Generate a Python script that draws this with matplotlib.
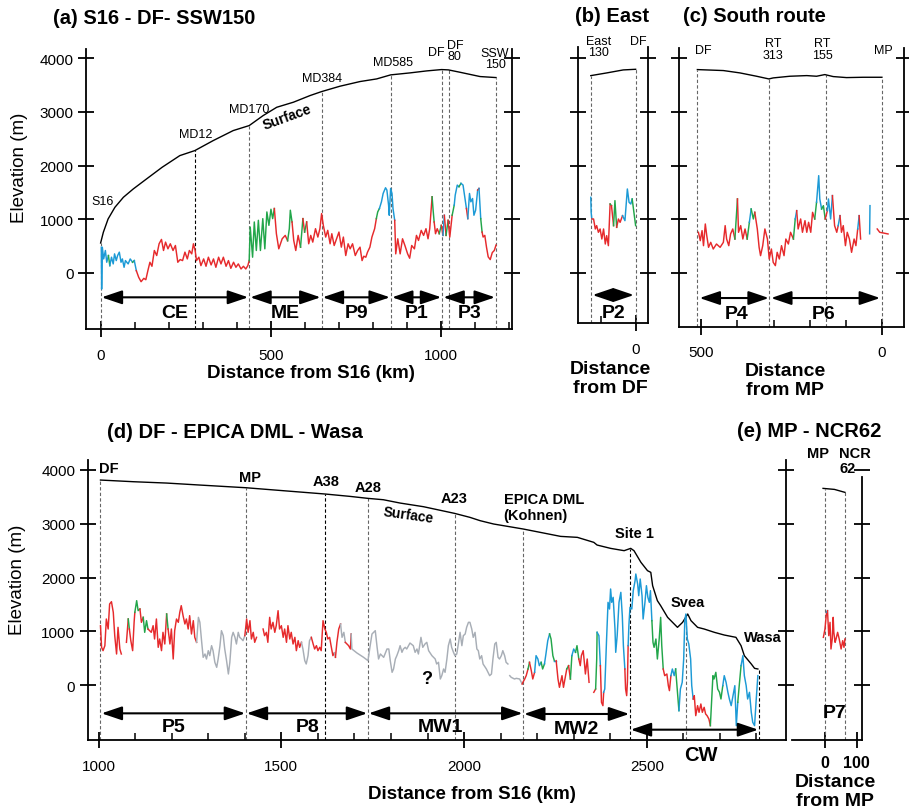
import numpy as np
import matplotlib
matplotlib.use("Agg")
import matplotlib.pyplot as plt
from matplotlib.ticker import MultipleLocator

plt.rcParams["font.family"] = ["Liberation Sans", "DejaVu Sans"]

nan = float("nan")

# ---- data (km, m) ----
# (a) S16 - DF - SSW150, distance from S16
A_SURF_KM = [0, 8, 22, 42, 67, 96, 135, 181, 233, 277, 331, 390, 437, 478, 518, 567, 616, 650, 704,
             763, 812, 853, 910, 959, 1003, 1023, 1057, 1116, 1163]
A_SURF_M = [559, 758, 1006, 1223, 1410, 1565, 1751, 1969, 2186, 2279, 2465, 2652, 2745, 2931, 3086, 3180,
            3304, 3378, 3478, 3565, 3614, 3689, 3726, 3763, 3788, 3782, 3738, 3658, 3639]
# bed rows: (km, m, colour of the piece that starts here)
A_BED = [
    (2, 480, "b"), (3, -300, "b"), (5, 480, "b"), (9, 262, "b"), (14, 419, "b"), (18, 200, "b"), (23, 325, "g"),
    (27, 137, "b"), (32, 294, "b"), (37, 169, "b"), (41, 356, "b"), (46, 231, "b"), (50, 325, "b"), (55, 388, "b"),
    (60, 200, "b"), (64, 262, "b"), (69, 106, "b"), (73, 231, "b"), (81, 169, "b"), (87, 262, "b"), (94, 200, "g"),
    (99, 231, "b"), (105, 44, "r"), (112, -81, "r"), (119, -162, "r"), (127, -100, "r"), (133, -125, "r"),
    (139, 44, "r"), (145, 200, "r"), (151, 125, "r"), (158, 419, "r"), (165, 325, "r"), (172, 544, "r"),
    (179, 625, "r"), (185, 419, "r"), (191, 575, "r"), (198, 450, "r"), (205, 544, "r"), (213, 419, "r"),
    (220, 512, "r"), (227, 200, "r"), (234, 250, "r"), (241, 231, "r"), (248, 388, "r"), (255, 262, "r"),
    (261, 419, "r"), (268, 356, "r"), (273, 544, "r"), (278, 419, "r"), (282, 231, "r"), (289, 294, "r"),
    (295, 137, "r"), (303, 262, "r"), (310, 125, "r"), (317, 294, "r"), (325, 150, "r"), (332, 262, "r"),
    (339, 106, "r"), (347, 294, "r"), (354, 169, "r"), (361, 294, "r"), (369, 125, "r"), (376, 231, "r"),
    (383, 87, "r"), (391, 200, "r"), (398, 106, "r"), (405, 169, "r"), (413, 75, "r"), (420, 125, "r"),
    (427, 75, "r"), (433, 137, "r"), (437, 231, "g"), (440, 856, "g"), (447, 294, "g"), (452, 950, "g"),
    (458, 419, "g"), (464, 981, "g"), (470, 419, "g"), (477, 1012, "g"), (483, 450, "g"), (489, 1137, "g"),
    (495, 887, "g"), (501, 1187, "g"), (506, 1012, "g"), (511, 1200, "r"), (517, 731, "r"), (524, 450, "r"),
    (534, 637, "r"), (543, 700, "r"), (550, 600, "g"), (555, 825, "g"), (558, 1169, "g"), (563, 950, "r"),
    (568, 606, "r"), (574, 419, "r"), (581, 700, "r"), (588, 481, "g"), (595, 1012, "r"), (600, 762, "g"),
    (606, 950, "r"), (612, 544, "r"), (618, 700, "r"), (624, 575, "r"), (632, 825, "r"), (639, 669, "r"),
    (645, 825, "r"), (650, 1106, "r"), (655, 887, "r"), (662, 669, "r"), (668, 794, "r"), (675, 544, "r"),
    (680, 731, "r"), (687, 512, "r"), (694, 637, "r"), (701, 762, "r"), (708, 481, "r"), (714, 669, "r"),
    (721, 325, "r"), (728, 544, "r"), (734, 450, "r"), (741, 544, "r"), (749, 325, "r"), (756, 419, "r"),
    (763, 481, "r"), (769, 231, "r"), (774, 312, "r"), (780, 294, "r"), (785, 388, "r"), (792, 481, "r"),
    (798, 669, "r"), (806, 825, "r"), (811, 1012, "g"), (815, 1137, "g"), (820, 1200, "b"), (826, 1325, "b"),
    (831, 1481, "b"), (838, 1587, "b"), (842, 1544, "b"), (847, 1262, "b"), (849, 1075, "b"), (853, 1575, "b"),
    (857, 1481, "b"), (860, 1200, "b"), (865, 981, "r"), (868, 356, "r"), (874, 637, "r"), (881, 356, "r"),
    (888, 637, "r"), (895, 512, "r"), (903, 356, "r"), (909, 275, "r"), (915, 512, "r"), (923, 450, "r"),
    (929, 700, "r"), (935, 606, "r"), (943, 794, "r"), (950, 700, "r"), (957, 825, "r"), (963, 637, "r"),
    (968, 825, "r"), (975, 1419, "g"), (978, 1169, "g"), (981, 950, "r"), (985, 731, "r"), (990, 825, "r"),
    (996, 731, "g"), (1002, 887, "r"), (1007, 700, "b"), (1011, 1075, "r"), (1016, 700, "g"), (1022, 981, "r"),
    (1027, 669, "r"), (1034, 1075, "g"), (1040, 1262, "b"), (1043, 1450, "b"), (1049, 1637, "b"),
    (1054, 1606, "g"), (1060, 1669, "b"), (1066, 1637, "b"), (1071, 1419, "b"), (1076, 1200, "r"),
    (1080, 1012, "b"), (1085, 1481, "b"), (1089, 1325, "b"), (1094, 1387, "b"), (1098, 1075, "b"),
    (1103, 1169, "b"), (1109, 1544, "r"), (1113, 1575, "b"), (1118, 1012, "g"), (1122, 762, "r"),
    (1125, 669, "r"), (1130, 700, "r"), (1135, 480, "r"), (1140, 300, "r"), (1146, 250, "r"), (1152, 380, "r"),
    (1158, 420, "r"), (1163, 520, "r"),
]
A_MARK_KM = [0, 278, 437, 650, 854, 1005, 1024, 1163]
A_SEG_NAMES = ["CE", "ME", "P9", "P1", "P3"]
A_SEG_START = [0, 437, 650, 854, 1005]
A_SEG_END = [437, 650, 854, 1005, 1163]

# (b) East, distance from DF
B_SURF_KM = [130, 84, 36, 0]
B_SURF_M = [3676, 3726, 3782, 3794]
B_BED = [
    (130, 1410, "b"), (129, 1130, "b"), (127, 1006, "r"), (122, 1006, "r"), (117, 820, "r"), (113, 882, "r"),
    (108, 758, "r"), (103, 820, "r"), (98, 633, "r"), (93, 820, "r"), (88, 540, "r"), (84, 696, "r"),
    (79, 509, "r"), (74, 1285, "g"), (70, 1254, "r"), (64, 882, "g"), (60, 1348, "g"), (55, 851, "r"),
    (50, 1006, "r"), (45, 944, "r"), (38, 1068, "b"), (31, 975, "b"), (24, 1565, "b"), (19, 1316, "b"),
    (14, 1285, "b"), (10, 1378, "g"), (5, 1130, "g"), (0, 882, "g"),
]
B_MARK_KM = [130, 0]
B_SEG_NAMES = ["P2"]
B_SEG_START = [125]
B_SEG_END = [5]

# (c) South route, distance from MP
C_SURF_KM = [511, 439, 393, 347, 313, 301, 255, 208, 181, 158, 135, 98, 52, 0]
C_SURF_M = [3788, 3770, 3726, 3664, 3614, 3633, 3664, 3676, 3664, 3695, 3658, 3639, 3645, 3645]
C_BED = [
    (508, 758, "r"), (503, 602, "r"), (498, 789, "r"), (494, 509, "r"), (489, 913, "r"), (485, 696, "r"),
    (480, 478, "r"), (474, 571, "r"), (467, 447, "r"), (458, 540, "r"), (448, 478, "r"), (439, 571, "r"),
    (434, 882, "r"), (430, 633, "r"), (424, 509, "r"), (419, 727, "r"), (413, 820, "r"), (407, 633, "g"),
    (400, 1379, "r"), (397, 758, "r"), (391, 882, "r"), (385, 633, "r"), (379, 820, "r"), (373, 633, "g"),
    (367, 944, "b"), (362, 1192, "g"), (356, 1006, "g"), (352, 1130, "r"), (345, 820, "r"), (340, 478, "r"),
    (336, 323, "r"), (330, 509, "r"), (324, 820, "r"), (317, 633, "r"), (312, 261, "r"), (306, 447, "r"),
    (301, 199, "r"), (295, 137, "r"), (290, 385, "r"), (284, 261, "r"), (278, 509, "r"), (271, 323, "r"),
    (266, 633, "r"), (259, 540, "r"), (253, 758, "r"), (245, 633, "g"), (240, 1006, "b"), (236, 1161, "r"),
    (232, 820, "r"), (225, 1006, "r"), (220, 758, "r"), (213, 975, "r"), (208, 758, "r"), (203, 944, "r"),
    (197, 758, "r"), (192, 1130, "r"), (186, 1006, "g"), (181, 1317, "b"), (175, 1813, "b"), (172, 1379, "b"),
    (167, 1192, "g"), (162, 1254, "g"), (157, 1006, "r"), (151, 1161, "b"), (148, 1379, "b"), (142, 1006, "b"),
    (137, 1441, "r"), (131, 882, "r"), (125, 758, "r"), (121, 882, "b"), (116, 1068, "r"), (112, 758, "r"),
    (107, 882, "r"), (101, 509, "r"), (96, 758, "r"), (90, 633, "r"), (84, 385, "r"), (77, 633, "r"),
    (72, 509, "r"), (67, 820, "b"), (63, 1068, "r"), (59, 633, "r"), (nan, nan, "r"), (34, 730, "b"),
    (33, 1254, "b"), (nan, nan, "r"), (13, 820, "r"), (6, 758, "r"), (-4, 745, "r"), (-17, 727, "r"),
]
C_MARK_KM = [511, 313, 155, 0]
C_SEG_NAMES = ["P4", "P6"]
C_SEG_START = [505, 307]
C_SEG_END = [313, 5]

# (d) DF - EPICA DML - Wasa, distance from S16
D_SURF_KM = [1005, 1095, 1186, 1277, 1403, 1505, 1620, 1688, 1737, 1779, 1825, 1889, 1974, 2016, 2044, 2081,
             2162, 2218, 2264, 2310, 2355, 2364, 2401, 2438, 2456, 2465, 2484, 2502, 2511, 2516, 2529, 2538,
             2557, 2584, 2598, 2612, 2621, 2639, 2657, 2685, 2712, 2744, 2758, 2767, 2786, 2795, 2804]
D_SURF_M = [3813, 3782, 3757, 3720, 3670, 3615, 3553, 3509, 3472, 3447, 3385, 3317, 3193, 3119, 3057, 2995,
            2902, 2827, 2765, 2747, 2654, 2604, 2542, 2499, 2542, 2499, 2282, 2127, 2096, 1848, 1569, 1476,
            1259, 1073, 1166, 1321, 1197, 1073, 1042, 980, 930, 887, 732, 546, 391, 310, 298]
D_BED = [
    (1005, 1104, "r"), (1008, 701, "r"), (1012, 639, "r"), (1017, 732, "r"), (1021, 1228, "r"), (1026, 1042, "r"),
    (1030, 1507, "r"), (1035, 1550, "r"), (1040, 1352, "r"), (1044, 918, "r"), (1049, 577, "r"), (1053, 1073, "r"),
    (1058, 670, "r"), (1062, 577, "r"), (nan, nan, "r"), (1076, 794, "r"), (1081, 1228, "g"), (1084, 1042, "r"),
    (1088, 825, "r"), (1093, 639, "r"), (1097, 1166, "r"), (1099, 1352, "g"), (1104, 1569, "g"),
    (1108, 1383, "g"), (1113, 1414, "r"), (1117, 1166, "r"), (1122, 1259, "g"), (1126, 980, "g"),
    (1131, 1197, "g"), (1135, 1042, "r"), (1144, 980, "r"), (1149, 1104, "r"), (1153, 856, "r"),
    (1158, 1228, "r"), (1163, 701, "r"), (1167, 856, "r"), (1172, 639, "r"), (1176, 980, "r"), (1181, 763, "r"),
    (1186, 1321, "g"), (1190, 1042, "r"), (1195, 763, "r"), (1199, 1042, "r"), (1204, 484, "r"),
    (1208, 1011, "r"), (1213, 1228, "r"), (1218, 1166, "r"), (1222, 1352, "r"), (1226, 1476, "r"),
    (1231, 1290, "r"), (1236, 1135, "r"), (1240, 1228, "r"), (1245, 1042, "r"), (1249, 1290, "r"),
    (1254, 949, "r"), (1259, 1197, "r"), (1263, 887, "r"), (1268, 794, "k"), (1273, 1259, "k"),
    (1277, 1166, "k"), (1282, 794, "k"), (1286, 515, "k"), (1291, 577, "k"), (1295, 484, "k"), (1300, 639, "k"),
    (1304, 546, "k"), (1309, 732, "k"), (1313, 639, "k"), (1318, 422, "k"), (1323, 329, "k"), (1327, 484, "k"),
    (1332, 732, "k"), (1336, 1011, "k"), (1341, 918, "k"), (1345, 670, "k"), (1350, 453, "k"), (1355, 205, "k"),
    (1359, 422, "k"), (1364, 887, "k"), (1368, 980, "k"), (1373, 887, "k"), (1377, 763, "k"), (1382, 980, "k"),
    (1386, 887, "k"), (1391, 856, "k"), (1395, 825, "k"), (1400, 918, "r"), (1405, 1228, "r"), (1409, 980, "r"),
    (1414, 1197, "r"), (1418, 856, "r"), (1423, 980, "r"), (1427, 794, "r"), (1432, 887, "r"), (nan, nan, "r"),
    (1450, 1042, "r"), (1454, 918, "r"), (1459, 980, "r"), (1463, 794, "r"), (1468, 1259, "r"),
    (1472, 1042, "r"), (1477, 1166, "r"), (1482, 980, "r"), (1486, 1104, "r"), (1491, 1383, "r"),
    (1495, 1042, "r"), (1500, 1104, "r"), (1505, 887, "r"), (1509, 1042, "r"), (1514, 794, "r"),
    (1518, 1104, "r"), (1523, 856, "r"), (1527, 980, "r"), (1532, 763, "r"), (1537, 887, "r"), (1541, 639, "r"),
    (1546, 825, "r"), (1550, 701, "r"), (1555, 794, "k"), (1559, 670, "k"), (1564, 453, "k"), (1568, 391, "k"),
    (1573, 546, "k"), (1577, 825, "k"), (1582, 887, "r"), (1587, 763, "r"), (1591, 670, "r"), (1596, 732, "r"),
    (1600, 639, "r"), (1605, 701, "r"), (1609, 639, "r"), (1614, 1197, "r"), (1619, 1042, "r"), (1623, 980, "r"),
    (1627, 856, "r"), (1632, 887, "r"), (1636, 732, "r"), (1641, 546, "r"), (1645, 600, "k"), (1648, 515, "r"),
    (1652, 794, "r"), (1657, 1042, "r"), (1662, 1135, "k"), (1666, 887, "k"), (1671, 980, "k"), (1675, 794, "r"),
    (1684, 732, "r"), (1689, 670, "r"), (1691, 949, "k"), (1693, 670, "k"), (1707, 595, "k"), (1725, 515, "k"),
    (1737, 453, "k"), (1743, 732, "k"), (1748, 949, "k"), (1757, 1011, "k"), (1762, 701, "k"), (1766, 484, "k"),
    (1771, 577, "k"), (1780, 515, "k"), (1789, 670, "k"), (1794, 670, "k"), (1798, 453, "k"), (1803, 236, "k"),
    (1807, 298, "k"), (1812, 484, "k"), (1816, 546, "k"), (1821, 639, "k"), (1825, 732, "k"), (1830, 608, "k"),
    (1834, 670, "k"), (1839, 701, "k"), (1843, 670, "k"), (1852, 781, "k"), (1861, 732, "k"), (1866, 608, "k"),
    (1871, 670, "k"), (1875, 577, "k"), (1882, 887, "k"), (1887, 701, "k"), (1893, 763, "k"), (1898, 794, "k"),
    (1903, 639, "k"), (1912, 546, "k"), (1921, 484, "k"), (1925, 391, "k"), (1930, 422, "k"), (1935, 112, "k"),
    (1939, 174, "k"), (1944, 298, "k"), (1948, 236, "k"), (1953, 484, "k"), (1957, 732, "k"), (1962, 856, "k"),
    (1966, 701, "k"), (1971, 608, "k"), (1975, 546, "k"), (1980, 577, "k"), (1985, 794, "k"), (1989, 980, "k"),
    (1994, 732, "k"), (1998, 918, "k"), (2003, 949, "k"), (2007, 1073, "k"), (2012, 1166, "k"),
    (2016, 1166, "k"), (2021, 1042, "k"), (2025, 887, "k"), (2030, 980, "k"), (2035, 670, "k"), (2039, 639, "k"),
    (2043, 484, "k"), (2048, 546, "k"), (2052, 391, "k"), (2061, 298, "k"), (2070, 174, "k"), (2075, 205, "k"),
    (2079, 484, "k"), (2084, 763, "k"), (2088, 794, "k"), (2093, 515, "k"), (2097, 484, "k"), (2102, 546, "k"),
    (2106, 639, "k"), (2111, 546, "k"), (2115, 422, "k"), (2120, 391, "k"), (nan, nan, "k"), (2125, 174, "k"),
    (2129, 143, "k"), (2138, 112, "k"), (2143, 124, "k"), (2152, 112, "k"), (2159, 19, "r"), (2161, 50, "r"),
    (2166, 112, "r"), (2170, 174, "r"), (2175, 298, "g"), (2179, 422, "r"), (2184, 267, "r"), (2188, 112, "r"),
    (2193, 236, "b"), (2197, 546, "b"), (2202, 484, "b"), (2206, 360, "b"), (2211, 422, "g"), (2215, 298, "g"),
    (2220, 391, "b"), (2224, 577, "b"), (2229, 825, "b"), (2234, 949, "g"), (2238, 856, "g"), (2243, 546, "g"),
    (2247, 453, "b"), (2252, 453, "r"), (2257, 112, "r"), (2261, -43, "r"), (2268, 174, "r"), (2272, -43, "r"),
    (2281, 298, "g"), (2286, 360, "r"), (2291, 112, "g"), (2295, 546, "b"), (2300, 670, "b"), (2305, 608, "g"),
    (2309, 732, "g"), (2314, 484, "r"), (2318, 360, "r"), (2321, 546, "r"), (2326, 639, "r"), (2330, 360, "r"),
    (2332, 205, "r"), (2337, 484, "r"), (2342, 50, "r"), (nan, nan, "r"), (2355, -136, "r"), (2360, -74, "g"),
    (2363, 484, "g"), (2364, 980, "b"), (2369, 918, "b"), (2373, 360, "r"), (2376, -322, "r"), (2380, -384, "r"),
    (2382, -136, "b"), (2385, -74, "b"), (2390, 856, "b"), (2394, 1538, "b"), (2398, 1414, "b"),
    (2401, 1786, "b"), (2404, 1538, "b"), (2408, 1631, "b"), (2413, 1042, "b"), (2415, 608, "b"),
    (2419, 918, "b"), (2424, 1538, "b"), (2429, 1724, "b"), (2433, 1290, "b"), (2436, 732, "b"),
    (2440, 298, "r"), (2442, -74, "r"), (2445, -198, "r"), (2447, 50, "r"), (2449, 732, "b"), (2451, 1104, "b"),
    (2454, 1445, "b"), (2459, 1414, "b"), (2463, 1755, "b"), (2468, 1941, "b"), (2470, 2065, "b"),
    (2475, 1879, "b"), (2478, 1662, "b"), (2482, 1972, "b"), (2487, 1662, "b"), (2490, 1228, "b"),
    (2495, 1538, "b"), (2499, 1848, "b"), (2503, 1631, "b"), (2507, 1538, "b"), (2510, 1755, "b"),
    (2514, 1197, "g"), (2517, 794, "g"), (2520, 701, "g"), (2525, 856, "g"), (2529, 484, "g"), (2534, 856, "g"),
    (2538, 1259, "g"), (2541, 732, "g"), (2545, 298, "r"), (2549, 174, "r"), (2555, 205, "r"), (2559, -12, "r"),
    (2562, -105, "r"), (2566, 174, "b"), (2570, 298, "b"), (2575, 174, "b"), (2579, 298, "g"), (2584, -136, "g"),
    (2588, -477, "b"), (2592, -74, "b"), (2597, 50, "b"), (2601, 484, "b"), (2604, 1197, "b"), (2607, 1321, "b"),
    (2611, 856, "b"), (2615, 763, "b"), (2620, 484, "b"), (2623, -12, "b"), (2627, -260, "r"), (2630, -198, "r"),
    (2634, -570, "r"), (2639, -384, "r"), (2643, -508, "r"), (2648, -353, "r"), (2652, -508, "r"),
    (2657, -415, "r"), (2661, -539, "r"), (2665, -570, "r"), (2670, -632, "r"), (2674, -756, "g"),
    (2681, 174, "g"), (2684, 112, "g"), (2689, 236, "g"), (2694, -74, "g"), (2699, -136, "g"), (2703, -260, "g"),
    (2708, -12, "b"), (2712, 174, "b"), (2717, 50, "b"), (2722, -136, "b"), (2726, -260, "b"), (2731, -384, "b"),
    (2736, -198, "b"), (2741, -12, "b"), (2745, -756, "b"), (2749, -322, "g"), (2753, -12, "g"), (2758, 360, "b"),
    (2763, 546, "b"), (2767, 174, "b"), (2772, -12, "b"), (2776, -260, "b"), (2781, -136, "b"), (2786, -508, "b"),
    (2790, -694, "b"), (2795, -756, "b"), (2799, -322, "b"), (2804, 174, "b"),
]
D_MARK_KM = [1005, 1403, 1620, 1737, 1974, 2162, 2454, 2607, 2807]
D_SEG_NAMES = ["P5", "P8", "MW1", "MW2"]
D_SEG_START = [1008, 1405, 1739, 2164]
D_SEG_END = [1401, 1735, 2160, 2452]
D_CW = [2456, 2805]

# (e) MP - NCR62, distance from MP
E_SURF_KM = [-6, 30, 63]
E_SURF_M = [3658, 3639, 3584]
E_BED = [
    (-5, 887, "r"), (0, 1042, "r"), (5, 1352, "b"), (8, 1383, "r"), (12, 918, "r"), (16, 1166, "r"),
    (19, 670, "r"), (23, 856, "r"), (26, 1259, "r"), (28, 980, "r"), (32, 794, "r"), (35, 856, "r"),
    (40, 980, "r"), (45, 856, "r"), (51, 670, "r"), (56, 825, "r"), (60, 701, "r"), (63, 856, "r"),
]
E_MARK_KM = [0, 63]

COL = {"r": "#e62a2c", "g": "#22a64a", "b": "#1c9ad6", "k": "#a8aeb6"}
W, H = 909, 812


def box(l, t, r, b):
    return [l / W, 1 - b / H, (r - l) / W, (b - t) / H]


def draw_bed(ax, rows):
    km = [r[0] for r in rows]
    m = [r[1] for r in rows]
    cc = [r[2] for r in rows]
    s = 0
    for i in range(1, len(rows) + 1):
        if i == len(rows) or cc[i] != cc[s]:
            ax.plot(km[s:i + 1], m[s:i + 1], color=COL[cc[s]], lw=1.05)
            s = i


def draw_marks(ax, xs, skm, sm, ybot, dark=()):
    order = np.argsort(skm)
    tops = np.interp(xs, np.asarray(skm)[order], np.asarray(sm)[order])
    for x, t in zip(xs, tops):
        c = "k" if x in dark else "0.4"
        ax.plot([x, x], [ybot, t], color=c, lw=0.8, ls=(0, (3, 2)))


def arrow(ax, x0, x1, y):
    ax.annotate("", xy=(x1, y), xytext=(x0, y),
                arrowprops=dict(arrowstyle="<|-|>,head_length=0.62,head_width=0.21", mutation_scale=20,
                                color="k", lw=1.5, shrinkA=0, shrinkB=0))


def setup(ax, xlim, ylim, left=True, ylabels=False):
    ax.set_xlim(*xlim)
    ax.set_ylim(*ylim)
    ax.spines["top"].set_visible(False)
    ax.spines["left"].set_visible(left)
    for sp in ax.spines.values():
        sp.set_linewidth(1.3)
    ax.set_yticks([0, 1000, 2000, 3000, 4000])
    ax.tick_params(axis="y", which="both", direction="inout", length=12, width=1.3, left=left, right=True,
                   labelleft=ylabels, labelright=False, labelsize=11, pad=3)
    ax.tick_params(axis="x", which="major", direction="inout", length=11, width=1.3, labelsize=11, pad=8)
    ax.tick_params(axis="x", which="minor", direction="in", length=5, width=1.1)
    ax.patch.set_visible(False)


fig = plt.figure(figsize=(W / 100, H / 100), dpi=100)


def ftext(px, py, s, **kw):
    fig.text(px / W, 1 - py / H, s, **kw)


# ---------------- (a) ----------------
ax = fig.add_axes(box(86, 50, 512, 330))
setup(ax, (-43, 1210), (-1043, 4171), ylabels=True)
ax.set_xticks([0, 500, 1000])
ax.xaxis.set_minor_locator(MultipleLocator(100))
draw_marks(ax, A_MARK_KM, A_SURF_KM, A_SURF_M, -1043, dark=(278,))
ax.plot(A_SURF_KM, A_SURF_M, color="k", lw=1.0)
draw_bed(ax, A_BED)
for n, x0, x1 in zip(A_SEG_NAMES, A_SEG_START, A_SEG_END):
    arrow(ax, x0 + 3, x1 - 3, -453)
    ax.text((x0 + x1) / 2, -733, n, ha="center", va="center", fontsize=14, fontweight="bold")
for x, y, s in [(7, 1341, "S16"), (280, 2588, "MD12"), (436, 3054, "MD170"), (651, 3631, "MD384"),
                (860, 3929, "MD585"), (986, 4115, "DF"), (1042, 4143, "DF\n80"), (1160, 3995, "SSW\n150")]:
    ax.text(x, y, s, ha="center", va="center", fontsize=9, linespacing=0.95, clip_on=False)
ax.text(548, 2905, "Surface", ha="center", va="center", fontsize=10, fontweight="bold", rotation=20)

# ---------------- (b) ----------------
ax = fig.add_axes(box(577.7, 48, 647.7, 324))
setup(ax, (168, -35), (-931, 4209))
ax.set_xticks([0])
ax.set_xticks([100], minor=True)
draw_marks(ax, B_MARK_KM, B_SURF_KM, B_SURF_M, -931)
ax.plot(B_SURF_KM, B_SURF_M, color="k", lw=1.0)
draw_bed(ax, B_BED)
for n, x0, x1 in zip(B_SEG_NAMES, B_SEG_START, B_SEG_END):
    arrow(ax, x0, x1, -410)
    ax.text(65, -733, n, ha="center", va="center", fontsize=14, fontweight="bold")
ax.text(108, 4218, "East\n130", ha="center", va="center", fontsize=9, linespacing=0.95, clip_on=False)
ax.text(-8, 4326, "DF", ha="center", va="center", fontsize=9, clip_on=False)

# ---------------- (c) ----------------
ax = fig.add_axes(box(679.3, 49, 904.3, 327.7))
setup(ax, (561, -62), (-1000, 4190))
ax.set_xticks([500, 0])
ax.set_xticks([400, 300, 200, 100], minor=True)
draw_marks(ax, C_MARK_KM, C_SURF_KM, C_SURF_M, -1000)
ax.plot(C_SURF_KM, C_SURF_M, color="k", lw=1.0)
draw_bed(ax, C_BED)
for n, x0, x1, lx in zip(C_SEG_NAMES, C_SEG_START, C_SEG_END, [402, 160]):
    arrow(ax, x0, x1, -466)
    ax.text(lx, -751, n, ha="center", va="center", fontsize=14, fontweight="bold")
for x, y, s in [(494, 4153, "DF"), (301, 4171, "RT\n313"), (164, 4171, "RT\n155"), (-4, 4153, "MP")]:
    ax.text(x, y, s, ha="center", va="center", fontsize=9, linespacing=0.95, clip_on=False)

# ---------------- (d) ----------------
ax = fig.add_axes(box(87.7, 461, 786, 741))
setup(ax, (970, 2881), (-1023, 4186), ylabels=True)
ax.set_xticks([1000, 1500, 2000, 2500])
ax.xaxis.set_minor_locator(MultipleLocator(100))
draw_marks(ax, D_MARK_KM, D_SURF_KM, D_SURF_M, -1023, dark=(1620, 2454, 2807))
ax.plot(D_SURF_KM, D_SURF_M, color="k", lw=1.0)
draw_bed(ax, D_BED)
for n, x0, x1, lx, ly in zip(D_SEG_NAMES, D_SEG_START, D_SEG_END, [1204, 1571, 1934, 2308],
                             [-775, -775, -775, -818]):
    arrow(ax, x0, x1, -527 if n != "MW2" else -539)
    ax.text(lx, ly, n, ha="center", va="center", fontsize=14, fontweight="bold")
arrow(ax, D_CW[0], D_CW[1], -831)
ax.text(2647, -1297, "CW", ha="center", va="center", fontsize=14.5, fontweight="bold", clip_on=False)
for x, y, s in [(1027, 4037, "DF"), (1414, 3876, "MP"), (1621, 3801, "A38"), (1737, 3690, "A28"),
                (1974, 3473, "A23"), (2467, 2821, "Site 1"), (2612, 1550, "Svea"), (2818, 899, "Wasa")]:
    ax.text(x, y, s, ha="center", va="center", fontsize=10.5, fontweight="bold", clip_on=False)
ax.text(2108, 3311, "EPICA DML\n(Kohnen)", ha="left", va="center", fontsize=10.5, fontweight="bold",
        linespacing=1.15)
ax.text(1848, 3163, "Surface", ha="center", va="center", fontsize=10, fontweight="bold", rotation=-8)
ax.text(1898, 112, "?", ha="center", va="center", fontsize=13, fontweight="bold")

# ---------------- (e) ----------------
ax = fig.add_axes(box(791.7, 461, 861.7, 741))
setup(ax, (-105, 116), (-1023, 4186), left=False)
ax.spines["right"].set_bounds(-1023, 3864)
ax.set_xticks([0, 100])
ax.tick_params(axis="x", which="major", labelsize=11.5, pad=5)
for lab in ax.get_xticklabels():
    lab.set_fontweight("bold")
draw_marks(ax, E_MARK_KM, E_SURF_KM, E_SURF_M, -1023)
ax.plot(E_SURF_KM, E_SURF_M, color="k", lw=1.0)
draw_bed(ax, E_BED)
ax.text(32, -508, "P7", ha="center", va="center", fontsize=14, fontweight="bold")
ax.text(-21, 4309, "MP", ha="center", va="center", fontsize=10.5, fontweight="bold", clip_on=False)
ax.text(95, 4309, "NCR", ha="center", va="center", fontsize=10.5, fontweight="bold", clip_on=False)
ax.text(71, 4030, "62", ha="center", va="center", fontsize=10.5, fontweight="bold", clip_on=False)

# ---------------- titles and axis labels ----------------
tkw = dict(ha="left", va="center", fontsize=14.5, fontweight="bold")
ftext(53, 18, "(a) S16 - DF- SSW150", **tkw)
ftext(575, 17, "(b) East", **tkw)
ftext(683, 17, "(c) South route", **tkw)
ftext(107, 433, "(d) DF - EPICA DML - Wasa", **tkw)
ftext(737, 432, "(e) MP - NCR62", **tkw)

lkw = dict(ha="center", va="center", fontsize=13.5, fontweight="bold", linespacing=1.0)
ftext(311, 374, "Distance from S16 (km)", **lkw)
ftext(472, 795, "Distance from S16 (km)", **lkw)
lkw2 = dict(lkw, fontsize=14, linespacing=1.15)
ftext(610, 379, "Distance\nfrom DF", **lkw2)
ftext(785, 381, "Distance\nfrom MP", **lkw2)
ftext(835, 792, "Distance\nfrom MP", **lkw2)
ftext(20, 168, "Elevation (m)", ha="center", va="center", fontsize=13.5, rotation=90)
ftext(18, 580, "Elevation (m)", ha="center", va="center", fontsize=13.5, rotation=90)

fig.savefig("out.png", dpi=100)
